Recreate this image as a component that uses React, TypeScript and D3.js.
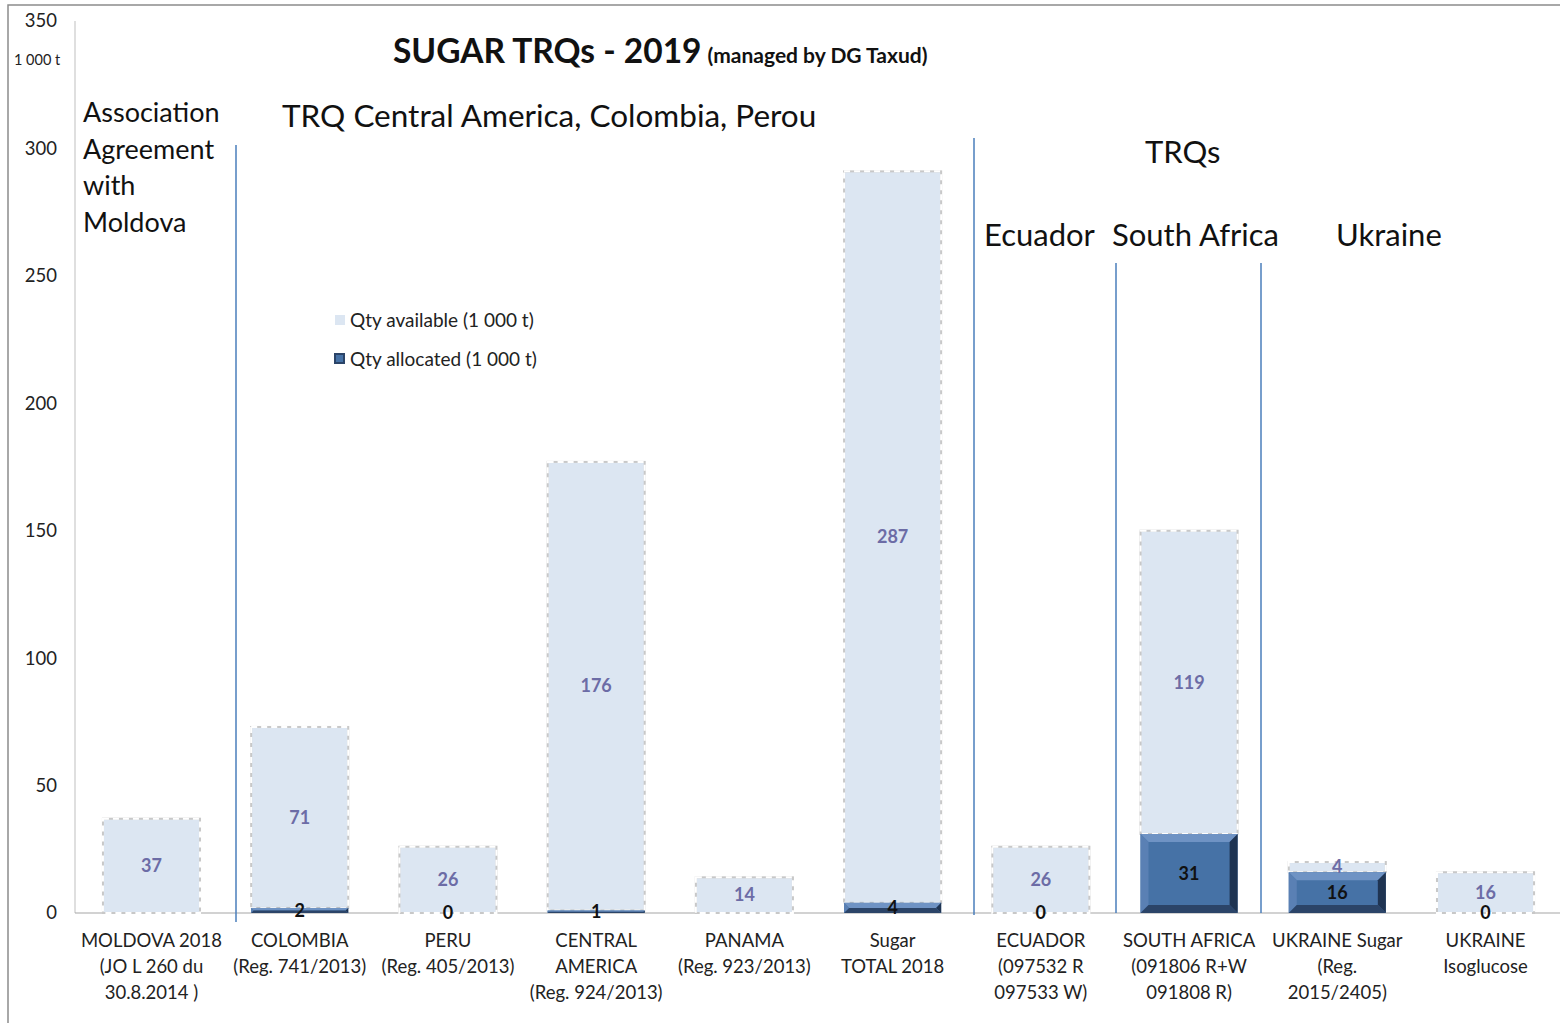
import * as d3 from "d3";
import React from 'react'

const categories = [
  ['MOLDOVA 2018', '(JO L 260 du', '30.8.2014 )'],
  ['COLOMBIA', '(Reg. 741/2013)'],
  ['PERU', '(Reg. 405/2013)'],
  ['CENTRAL', 'AMERICA', '(Reg. 924/2013)'],
  ['PANAMA', '(Reg. 923/2013)'],
  ['Sugar', 'TOTAL 2018'],
  ['ECUADOR', '(097532 R', '097533 W)'],
  ['SOUTH AFRICA', '(091806 R+W', '091808 R)'],
  ['UKRAINE Sugar', '(Reg.', '2015/2405)'],
  ['UKRAINE', 'Isoglucose'],
]
// allocated (bottom), null = no label shown
const allocated: (number | null)[] = [null, 2, 0, 1, null, 4, 0, 31, 16, 0]
const available = [37, 71, 26, 176, 14, 287, 26, 119, 4, 16]
const yTicks = [0, 50, 100, 150, 200, 250, 300, 350]

const W = 1560
const H = 1023
const FONT = "Lato, 'Open Sans', sans-serif"

export default function App() {
  const keys = categories.map((c) => c.join(' '))
  const x = d3.scaleBand().domain(keys).range([77, 1560]).paddingInner(0.345).paddingOuter(0.175)
  const y = d3.scaleLinear().domain([0, 350]).range([913, 21])
  const bw = x.bandwidth()
  const bev = 8

  return (
    <svg width={W} height={H} style={{ position: 'fixed', left: 0, top: 0, background: '#fff' }} fontFamily={FONT}>
      {/* frame */}
      <rect x={8} y={5} width={W} height={H} fill="none" stroke="#8c8c8c" strokeWidth={1.5} />
      {/* axes */}
      <line x1={75} x2={75} y1={y(350)} y2={y(0)} stroke="#bfbfbf" />
      <line x1={75} x2={W} y1={y(0)} y2={y(0)} stroke="#a6a6a6" strokeWidth={1.2} />
      {yTicks.map((t) => (
        <text key={t} x={57} y={y(t)} dy="0.35em" textAnchor="end" fontSize={18.5} fill="#222">{t}</text>
      ))}
      <text x={14} y={65} fontSize={14.5} fill="#222">1 000 t</text>

      {/* title */}
      <text x={393} y={63} fontWeight="bold" fill="#111">
        <tspan fontSize={33.5}>SUGAR TRQs - 2019</tspan>
        <tspan fontSize={21} dx={6}>(managed by DG Taxud)</tspan>
      </text>

      {/* bars */}
      {keys.map((k, i) => {
        const a = allocated[i] ?? 0
        const x0 = x(k) as number
        const yTop = y(a + available[i])
        const yMid = y(a)
        const hA = y(0) - yMid
        return (
          <g key={k}>
            <rect x={x0} y={yTop} width={bw} height={yMid - yTop} fill="#dce6f2" stroke="#c8c8c8" strokeWidth={2} />
            <rect x={x0} y={yTop} width={bw} height={yMid - yTop} fill="none" stroke="#fff" strokeWidth={2} strokeDasharray="6 4" />
            {hA > 0 && (() => {
              const b = Math.min(bev, hA / 2)
              const x1 = x0 + bw
              const y1 = y(0)
              return (
                <g>
                  <rect x={x0} y={yMid} width={bw} height={hA} fill="#4672a6" />
                  <polygon points={`${x0},${yMid} ${x1},${yMid} ${x1 - b},${yMid + b} ${x0 + b},${yMid + b}`} fill="#6f93c4" />
                  <polygon points={`${x0},${yMid} ${x0 + b},${yMid + b} ${x0 + b},${y1 - b} ${x0},${y1}`} fill="#5a80b4" />
                  <polygon points={`${x1},${yMid} ${x1},${y1} ${x1 - b},${y1 - b} ${x1 - b},${yMid + b}`} fill="#1f3452" />
                  <polygon points={`${x0},${y1} ${x1},${y1} ${x1 - b},${y1 - b} ${x0 + b},${y1 - b}`} fill="#2b4468" />
                </g>
              )
            })()}
            <text x={x0 + bw / 2} y={(yTop + yMid) / 2} dy="0.35em" textAnchor="middle" fontSize={18} fontWeight="bold" fill="#6c6ca6">{available[i]}</text>
            {allocated[i] !== null && (
              <text x={x0 + bw / 2} y={(yMid + y(0)) / 2} dy="0.35em" textAnchor="middle" fontSize={18} fontWeight="bold" fill="#111">{allocated[i]}</text>
            )}
            {categories[i].map((line, j) => (
              <text key={j} x={x0 + bw / 2} y={941 + j * 26} dy="0.35em" textAnchor="middle" fontSize={18.5} fill="#222">{line}</text>
            ))}
          </g>
        )
      })}

      {/* group separators */}
      <line x1={236} x2={236} y1={145} y2={922} stroke="#4a7ebb" strokeWidth={1.5} />
      <line x1={974} x2={974} y1={138} y2={915} stroke="#4a7ebb" strokeWidth={1.5} />
      <line x1={1116} x2={1116} y1={263} y2={913} stroke="#4a7ebb" strokeWidth={1.5} />
      <line x1={1261} x2={1261} y1={263} y2={913} stroke="#4a7ebb" strokeWidth={1.5} />

      {/* group labels */}
      {['Association', 'Agreement', 'with', 'Moldova'].map((t, j) => (
        <text key={t} x={83} y={113 + j * 36.5} dy="0.35em" fontSize={27} fill="#111">{t}</text>
      ))}
      <text x={282} y={116} dy="0.35em" fontSize={31.5} fill="#111">TRQ Central America, Colombia, Perou</text>
      <text x={1145} y={152} dy="0.35em" fontSize={31} fill="#111">TRQs</text>
      <text x={984} y={235} dy="0.35em" fontSize={31} fill="#111">Ecuador</text>
      <text x={1112} y={235} dy="0.35em" fontSize={31} fill="#111">South Africa</text>
      <text x={1336} y={235} dy="0.35em" fontSize={31} fill="#111">Ukraine</text>

      {/* legend */}
      <rect x={335} y={315} width={10} height={10} fill="#dce6f2" />
      <text x={350} y={320} dy="0.35em" fontSize={19} fill="#222">Qty available (1 000 t)</text>
      <rect x={334} y={353} width={11} height={11} fill="#2b4468" />
      <rect x={336} y={355} width={7} height={7} fill="#4672a6" />
      <text x={350} y={359} dy="0.35em" fontSize={19} fill="#222">Qty allocated (1 000 t)</text>
    </svg>
  )
}
